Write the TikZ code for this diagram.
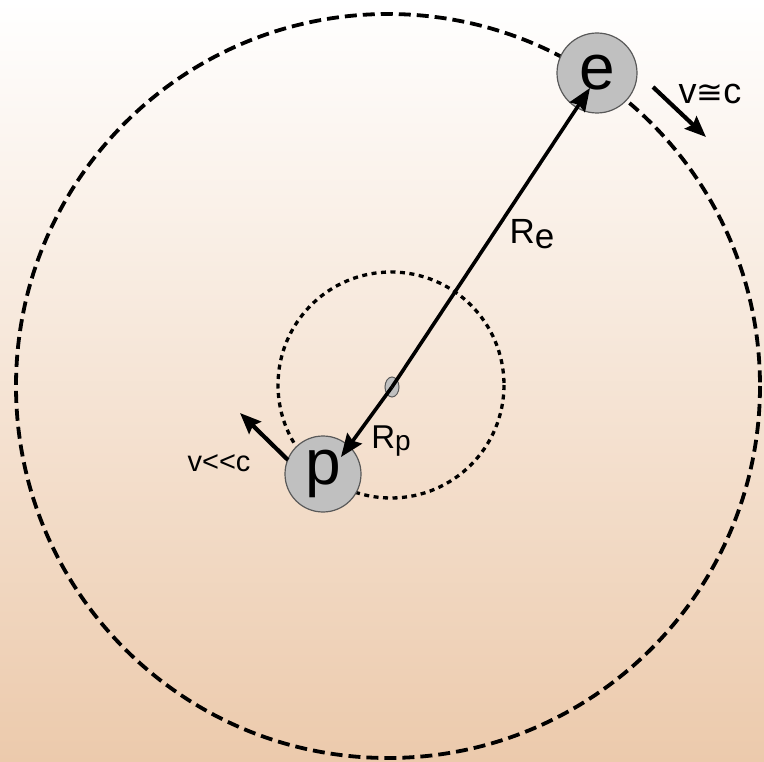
\documentclass[tikz,border=0pt]{standalone}
\usepackage{fontspec}
\setmainfont{Liberation Sans}
\newfontfamily\symfont{DejaVu Sans}
\usetikzlibrary{arrows.meta, shapes.geometric}
\definecolor{partgray}{RGB}{192,192,192}
\definecolor{peachlow}{RGB}{236,202,172}
\definecolor{peachmid}{RGB}{252,245,241}

\begin{document}
\begin{tikzpicture}[
    x=1pt, y=-1pt,
    particle/.style={circle, draw=black!65, line width=1.2pt, fill=partgray,
                     inner sep=0pt, minimum size=#1,
                     font=\fontsize{64}{64}\selectfont},
    nucleus/.style={ellipse, draw=black!65, line width=1pt, fill=partgray,
                    inner sep=0pt, minimum width=14pt, minimum height=20pt},
    orbit/.style={line width=3.8pt, dash pattern=on 12pt off 6pt},
    inner orbit/.style={line width=3.3pt, dash pattern=on 5pt off 4.5pt},
    arr/.style={-{Stealth[length=23pt, width=18pt, inset=3pt]}, line width=3.6pt},
    lbl/.style={inner sep=0pt, font=\fontsize{#1}{#1}\selectfont},
]
\useasboundingbox (0,0) rectangle (764,762);
\shade[top color=white, middle color=peachmid, bottom color=peachlow] (0,0) rectangle (764,762);

% orbits
\draw[orbit] (388,386) circle[radius=372];
\draw[inner orbit] (391,385) circle[radius=113];

% particles
\node[nucleus] (nuc) at (392,387) {};
\node[particle=80pt] (e) at (597,73) {e};
\node[particle=76pt] (p) at (323,474) {p};
\coordinate (etip) at (590,88);
\coordinate (ptip) at (341,457);

\draw[arr] (nuc.center) -- (etip);
\draw[arr] (nuc.center) -- (ptip);
\node[lbl=35] (re) at (532,234) {R\raisebox{-5pt}{e}};
\node[lbl=33] (rp) at (391,441) {R\raisebox{-2pt}{\fontsize{28}{28}\selectfont p}};

% velocities
\coordinate (ev0) at (653,87);
\coordinate (ev1) at (706,137);
\coordinate (pv0) at (288,460);
\coordinate (pv1) at (240,413);
\draw[arr, arrows={-Stealth[length=21pt, width=17pt, inset=3pt]}, line width=4.2pt] (ev0) -- (ev1);
\draw[arr, arrows={-Stealth[length=21pt, width=17pt, inset=3pt]}, line width=4.2pt] (pv0) -- (pv1);
\node[lbl=36] (vfast) at (710,94) {v{\symfont\fontsize{32}{32}\selectfont ≅}c};
\node[lbl=29] (vslow) at (219,463) {v<{}<c};
\end{tikzpicture}
\end{document}
